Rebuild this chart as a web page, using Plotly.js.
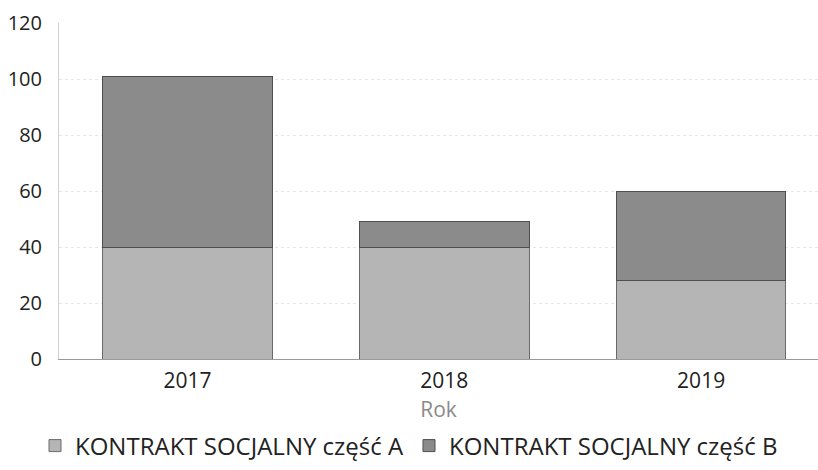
<!DOCTYPE html>
<html>
<head>
<meta charset="utf-8">
<script src="https://cdn.plot.ly/plotly-3.0.1.min.js"></script>
<style>html,body{margin:0;padding:0;background:#fff;}#chart{width:818px;height:470px;}</style>
</head>
<body>
<div id="chart"></div>
<script>
const years = ['2017', '2018', '2019'];
const partA = [40, 40, 28];
const partB = [61, 9, 32];
const seriesNames = ['KONTRAKT SOCJALNY część A', 'KONTRAKT SOCJALNY część B'];
const yTicks = [0, 20, 40, 60, 80, 100, 120];

const fam = 'Open Sans, DejaVu Sans, sans-serif';

const traces = [
  {type: 'bar', x: years, y: partA, name: seriesNames[0], width: 0.66,
   marker: {color: '#b5b5b5', line: {color: '#6a6a6a', width: 1}}},
  {type: 'bar', x: years, y: partB, name: seriesNames[1], width: 0.66,
   marker: {color: '#8b8b8b', line: {color: '#4f4f4f', width: 1}}}
];

const layout = {
  width: 818, height: 470,
  margin: {l: 59, r: 0, t: 23, b: 111},
  barmode: 'stack',
  paper_bgcolor: '#ffffff', plot_bgcolor: '#ffffff',
  font: {family: fam, size: 20, color: '#222'},
  showlegend: true,
  legend: {orientation: 'h', x: 0.5, xanchor: 'center', xref: 'container',
           y: 1 - 446/470, yref: 'container', yanchor: 'middle',
           font: {family: fam, size: 24, color: '#222'}, traceorder: 'normal',
           itemwidth: 30, tracegroupgap: 0},
  xaxis: {type: 'category', range: [-0.5, 2.455], automargin: false,
          showgrid: false, showline: true, linecolor: '#9a9a9a', linewidth: 1,
          ticks: '', ticklabelstandoff: 3, tickfont: {family: fam, size: 21, color: '#222'},
          title: {text: 'Rok', font: {family: fam, size: 21, color: '#8a8a8a'}, standoff: 20}},
  yaxis: {range: [0, 120], tickvals: yTicks, ticktext: yTicks.map(String),
          showgrid: true, gridcolor: '#e6e6e6', griddash: 'dot', gridwidth: 1,
          showline: true, linecolor: '#d0d0d0', linewidth: 1,
          zeroline: false, ticks: '', ticklabelstandoff: 12,
          tickfont: {family: fam, size: 20, color: '#222'}}
};

Plotly.newPlot('chart', traces, layout, {staticPlot: true, displayModeBar: false});
</script>
</body>
</html>
